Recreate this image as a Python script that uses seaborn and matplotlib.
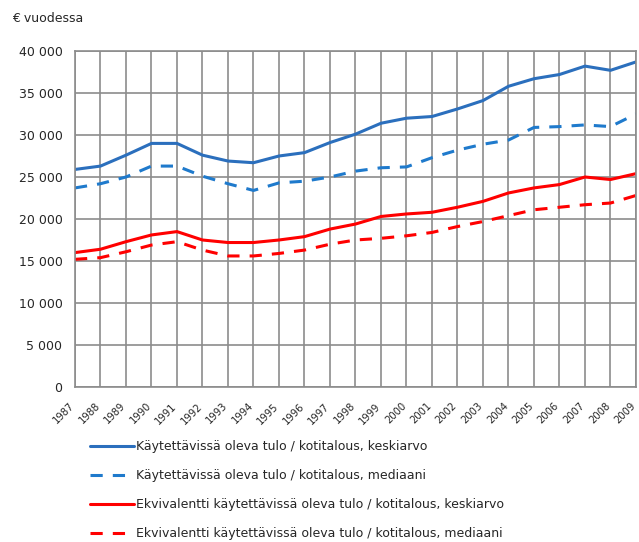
import pandas as pd
import matplotlib.pyplot as plt
import matplotlib.transforms as mtransforms
import seaborn as sns
from matplotlib.ticker import FuncFormatter

years = list(range(1987, 2010))

# Käytettävissä oleva tulo / kotitalous
kotitalous_keskiarvo = [25900, 26300, 27600, 29000, 29000, 27600, 26900, 26700, 27500, 27900,
                        29100, 30100, 31400, 32000, 32200, 33100, 34100, 35800, 36700, 37200,
                        38200, 37700, 38700]
kotitalous_mediaani = [23700, 24200, 25000, 26300, 26300, 25100, 24200, 23400, 24300, 24500,
                       25000, 25700, 26100, 26200, 27300, 28200, 28900, 29400, 30900, 31000,
                       31200, 31000, 32500]
# Ekvivalentti
ekv_keskiarvo = [16000, 16400, 17300, 18100, 18500, 17500, 17200, 17200, 17500, 17900,
                 18800, 19400, 20300, 20600, 20800, 21400, 22100, 23100, 23700, 24100,
                 25000, 24700, 25400]
ekv_mediaani = [15200, 15400, 16100, 16900, 17300, 16300, 15600, 15600, 15900, 16300,
                17000, 17500, 17700, 18000, 18400, 19100, 19700, 20400, 21100, 21400,
                21700, 21900, 22800]

labels = ['Käytettävissä oleva tulo / kotitalous, keskiarvo',
          'Käytettävissä oleva tulo / kotitalous, mediaani',
          'Ekvivalentti käytettävissä oleva tulo / kotitalous, keskiarvo',
          'Ekvivalentti käytettävissä oleva tulo / kotitalous, mediaani']

series = [kotitalous_keskiarvo, kotitalous_mediaani, ekv_keskiarvo, ekv_mediaani]
df = pd.concat([pd.DataFrame({'vuosi': years, 'arvo': s, 'sarja': lab})
                for s, lab in zip(series, labels)])

sns.set_style('white')
plt.rcParams['font.family'] = ['DejaVu Sans']

fig = plt.figure(figsize=(6.39, 5.42), dpi=100)
ax = fig.add_axes([75 / 639, 1 - 387 / 542, 561 / 639, 336 / 542])

grid_col = '#8c8c8c'
ax.set_axisbelow(True)
ax.grid(True, color=grid_col, linewidth=1.2)

sns.lineplot(data=df, x='vuosi', y='arvo', hue='sarja', style='sarja',
             palette=['#2b6fbd', '#1f7acc', '#ff0000', '#ff0000'],
             dashes=['', (4, 3.3), '', (4, 3.3)],
             linewidth=2.2, ax=ax)

ax.set_xlim(1987, 2009)
ax.set_ylim(0, 40000)
ax.set_xticks(years)
ax.set_yticks(range(0, 40001, 5000))
ax.yaxis.set_major_formatter(FuncFormatter(lambda v, p: f'{int(v):,}'.replace(',', ' ')))
ax.set_xticklabels([str(y) for y in years], rotation=45, ha='right', va='top',
                   rotation_mode='anchor', fontsize=7.2)
ax.tick_params(axis='y', labelsize=9, length=5, color=grid_col, pad=4)
ax.tick_params(axis='x', length=5, color=grid_col, pad=5)
shift = mtransforms.ScaledTranslation(-4 / 72, 0, fig.dpi_scale_trans)
for lab in ax.get_xticklabels():
    lab.set_transform(lab.get_transform() + shift)
ax.set_xlabel('')
ax.set_ylabel('')
for sp in ax.spines.values():
    sp.set_color(grid_col)
    sp.set_linewidth(1.2)

fig.text(12 / 639, 1 - 18 / 542, '€ vuodessa', fontsize=9, va='center', ha='left')

handles, labs = ax.get_legend_handles_labels()
ax.legend_.remove()
fig.legend(handles, labs, loc='upper left', bbox_to_anchor=(90 / 639, 1 - 440 / 542),
           frameon=False, fontsize=9, handlelength=3.5, handletextpad=0.2,
           labelspacing=1.28, borderpad=0, borderaxespad=0)

plt.savefig('out.png', dpi=100)
